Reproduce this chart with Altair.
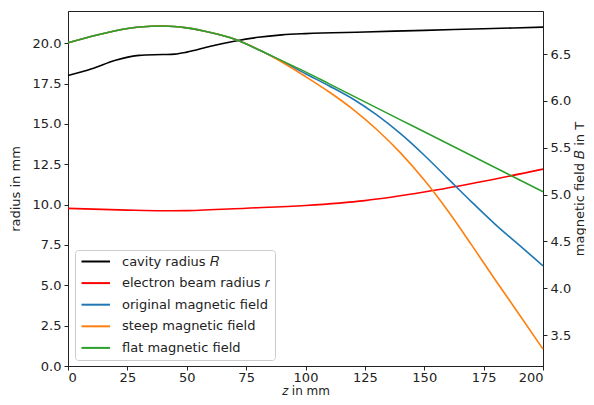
import altair as alt
import pandas as pd

# cavity radius R and electron beam radius r (left axis, mm)
z_R = [0, 10, 20, 30, 40, 45, 50, 60, 70, 80, 90, 100, 125, 150, 175, 200]
R_vals = [18.0, 18.42, 18.95, 19.25, 19.3, 19.33, 19.45, 19.82, 20.13, 20.37, 20.52, 20.6, 20.7, 20.8, 20.9, 21.0]

z_r = [0, 25, 40, 50, 75, 100, 125, 150, 175, 200]
r_vals = [9.77, 9.66, 9.62, 9.63, 9.78, 9.95, 10.25, 10.78, 11.45, 12.2]

# magnetic fields (right axis, T)
z_B = [0, 10, 20, 30, 40, 50, 60, 70, 80, 90, 100, 110, 120, 130, 140, 150, 160, 170, 180, 190, 200]
B_original = [6.62, 6.69, 6.75, 6.79, 6.80, 6.78, 6.73, 6.66, 6.55, 6.425, 6.29, 6.16, 6.02, 5.85, 5.65, 5.42, 5.17, 4.92, 4.68, 4.46, 4.24]
B_steep = [6.62, 6.69, 6.75, 6.79, 6.80, 6.78, 6.73, 6.66, 6.55, 6.415, 6.26, 6.095, 5.91, 5.695, 5.445, 5.155, 4.825, 4.46, 4.085, 3.72, 3.35]
B_flat = [6.62, 6.69, 6.75, 6.79, 6.80, 6.78, 6.73, 6.66, 6.55, 6.43, 6.31, 6.182, 6.054, 5.926, 5.798, 5.67, 5.542, 5.414, 5.286, 5.158, 5.03]

series_names = ["cavity radius 𝑅", "electron beam radius 𝑟",
                "original magnetic field", "steep magnetic field", "flat magnetic field"]
series_colors = ["#000000", "#ff0000", "#1f77b4", "#ff7f0e", "#2ca02c"]

x_ticks = [0, 25, 50, 75, 100, 125, 150, 175, 200]
left_ticks = [0.0, 2.5, 5.0, 7.5, 10.0, 12.5, 15.0, 17.5, 20.0]
right_ticks = [3.5, 4.0, 4.5, 5.0, 5.5, 6.0, 6.5]

left_df = pd.concat([
    pd.DataFrame({"z": z_R, "v": R_vals, "series": series_names[0]}),
    pd.DataFrame({"z": z_r, "v": r_vals, "series": series_names[1]}),
])
right_df = pd.concat([
    pd.DataFrame({"z": z_B, "v": B_original, "series": series_names[2]}),
    pd.DataFrame({"z": z_B, "v": B_steep, "series": series_names[3]}),
    pd.DataFrame({"z": z_B, "v": B_flat, "series": series_names[4]}),
])

FONT = "DejaVu Sans"
FS = 13

color = alt.Color(
    "series:N",
    scale=alt.Scale(domain=series_names, range=series_colors),
    sort=series_names,
    legend=alt.Legend(
        title=None, orient="none", legendX=7, legendY=239,
        symbolType="M-1,0H4.7", symbolSize=100, symbolStrokeWidth=2,
        labelFont=FONT, labelFontSize=FS, labelColor="#222", labelOffset=29,
        fillColor="white", strokeColor="#cccccc", cornerRadius=3,
        padding=5, rowPadding=7.6, labelLimit=300,
    ),
)

x_enc = alt.X(
    "z:Q",
    scale=alt.Scale(domain=[0, 200], nice=False, zero=False),
    axis=alt.Axis(title="𝑧 in mm", values=x_ticks, format="d", grid=False,
                  labelPadding=1, titleY=19, titleBaseline="top", titleFontSize=12),
)

left = alt.Chart(left_df).mark_line(strokeWidth=1.6, interpolate="monotone").encode(
    x=x_enc,
    y=alt.Y("v:Q", scale=alt.Scale(domain=[0, 22], nice=False, zero=False),
            axis=alt.Axis(title="radius in mm", values=left_ticks, format=".1f",
                          grid=False, orient="left", titlePadding=10)),
    color=color,
    order=alt.Order("z:Q"),
)

right = alt.Chart(right_df).mark_line(strokeWidth=1.6, interpolate="monotone").encode(
    x=x_enc,
    y=alt.Y("v:Q", scale=alt.Scale(domain=[3.17, 6.96], nice=False, zero=False),
            axis=alt.Axis(title="magnetic field 𝐵 in T", values=right_ticks, format=".1f",
                          grid=False, orient="right", titlePadding=3,
                          titleAngle=270, titleBaseline="top")),
    color=color,
    order=alt.Order("z:Q"),
)

chart = alt.layer(left, right).resolve_scale(y="independent", color="shared").properties(
    width=475, height=355,
    autosize=alt.AutoSizeParams(type="none"),
    padding={"left": 60, "top": 3, "right": 43, "bottom": 31},
).configure_view(
    stroke="#222", strokeWidth=1,
).configure_axis(
    labelFont=FONT, labelFontSize=FS, labelColor="#222",
    titleFont=FONT, titleFontSize=FS, titleColor="#222", titleFontWeight="normal",
    domainColor="#222", tickColor="#222", tickSize=4, labelPadding=3,
)

chart.save("out.html", embed_options={"renderer": "svg", "actions": False})
